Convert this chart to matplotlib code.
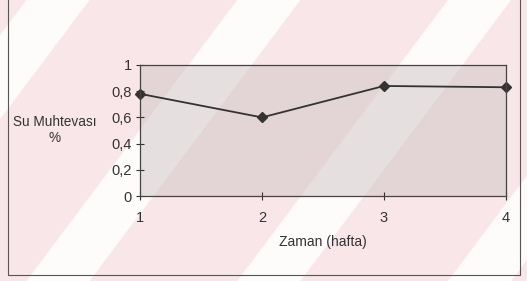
import matplotlib
matplotlib.use("Agg")
import matplotlib.pyplot as plt
from matplotlib.patches import Rectangle, Polygon

weeks = [1, 2, 3, 4]
water = [0.78, 0.60, 0.84, 0.83]
yticks = [0, 0.2, 0.4, 0.6, 0.8, 1.0]
ytick_labels = ["0", "0,2", "0,4", "0,6", "0,8", "1"]

FONT = ["Liberation Sans", "DejaVu Sans"]

fig = plt.figure(figsize=(5.27, 2.81), dpi=100)
fig.patch.set_facecolor("#f9e6e9")

# watermark-like diagonal stripes (behind everything)
for x0 in [-0.35, 0.05, 0.45, 0.85]:
    fig.patches.append(Polygon([(x0, 0), (x0 + 0.12, 0), (x0 + 0.52, 1), (x0 + 0.40, 1)],
                               closed=True, transform=fig.transFigure,
                               facecolor="white", edgecolor="none", alpha=0.85, zorder=-5))

# outer frame
fig.patches.append(Rectangle((8 / 527, 6 / 281), 512 / 527, 1.2, transform=fig.transFigure,
                             fill=False, edgecolor="#555555", linewidth=0.8, zorder=-4))

ax = fig.add_axes([140 / 527, 1 - 196 / 281, 366 / 527, 131 / 281])
ax.set_zorder(2)
ax.patch.set_facecolor("#c9bfc1")
ax.patch.set_alpha(0.45)
ax.plot(weeks, water, color="#333333", linewidth=1.3, marker="D", markersize=5,
        markerfacecolor="#333333", markeredgecolor="#333333", clip_on=False)
ax.set_xlim(1, 4)
ax.set_ylim(0, 1)
ax.set_xticks(weeks)
ax.set_xticklabels([str(w) for w in weeks], fontsize=10.5, color="#333333")
ax.set_yticks(yticks)
ax.set_yticklabels(ytick_labels, fontsize=10.5, color="#333333")
ax.tick_params(axis="x", direction="inout", length=6, pad=8, color="#333333")
ax.tick_params(axis="y", direction="inout", length=6, pad=3, color="#333333")
for s in ax.spines.values():
    s.set_color("#444444")
    s.set_linewidth(0.9)

ax.set_xlabel("Zaman (hafta)", fontsize=10, color="#333333", labelpad=7, family=FONT)
fig.text(55 / 527, 1 - 130 / 281, "Su Muhtevası\n%", ha="center", va="center",
         fontsize=9.8, color="#333333", family=FONT, linespacing=1.15)
for lab in ax.get_xticklabels() + ax.get_yticklabels():
    lab.set_family(FONT)

fig.savefig("out.png", dpi=100, facecolor=fig.get_facecolor())
